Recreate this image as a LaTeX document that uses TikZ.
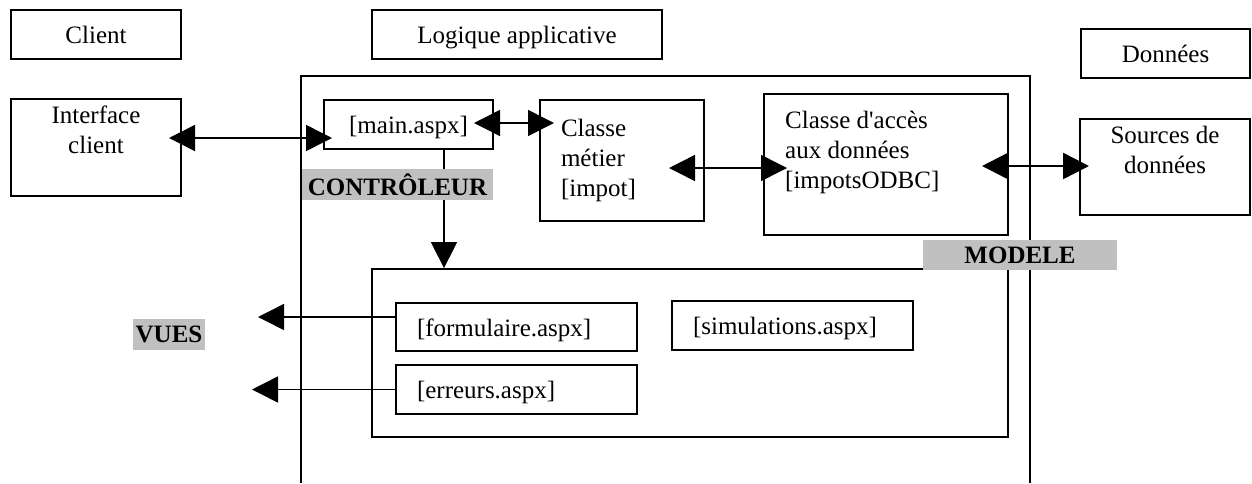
\documentclass[tikz,border=0pt]{standalone}
\usepackage{fontspec}
\setmainfont{Liberation Serif}
\usepackage{tikz}
\usetikzlibrary{arrows.meta,positioning}
\definecolor{mvcgray}{HTML}{C0C0C0}
\definecolor{mvcink}{HTML}{000000}
\newcommand{\mvcfont}{\fontsize{25}{30}\selectfont}
\tikzset{
  plainBox/.style={draw=mvcink, line width=2pt, inner sep=0pt, font=\mvcfont, align=center},
  lineBox/.style={draw=mvcink, line width=2pt, inner sep=0pt, font=\mvcfont, text height=18pt, text depth=0pt},
  textBox/.style={plainBox, align=left, inner xsep=21pt},
  textLine/.style={textBox, text height=18pt, text depth=0pt},
  boxText/.style={font=\mvcfont, inner sep=0pt},
  grayLabel/.style={fill=mvcgray, inner sep=0pt, font=\mvcfont\bfseries},
  dblArrow/.style={{Triangle[length=26pt,width=26pt]}-{Triangle[length=26pt,width=26pt]}, line width=1.5pt, draw=mvcink},
  oneArrow/.style={-{Triangle[length=26pt,width=26pt]}, line width=1.5pt, draw=mvcink},
  frameLine/.style={line width=1.5pt, draw=mvcink}
}

\begin{document}
\begin{tikzpicture}[x=1pt,y=-1pt]
  \useasboundingbox (0,0) rectangle (1252,483);
  % tier headers
  \node[lineBox, minimum width=170pt, minimum height=49pt] (client) at (96,34.5) {Client};
  \node[lineBox, minimum width=290pt, minimum height=49pt] (logique) at (517,34.5) {Logique applicative};
  \node[lineBox, minimum width=169pt, minimum height=49pt] (donnees) at (1165.5,53.5) {Données};
  % application frame and views
  \draw[frameLine] (301,483) -- (301,76) -- (1030,76) -- (1030,483);
  \node[plainBox, line width=1.8pt, minimum width=636pt, minimum height=168pt] (vues) at (690,353) {};
  \node[plainBox, minimum width=170pt, minimum height=97pt] (iface) at (96,147.5) {};
  \node[boxText, align=center] (ifaceTxt) at (96,130) {Interface\\client};
  \node[lineBox, minimum width=169pt, minimum height=49pt] (main) at (408.5,124.5) {[main.aspx]};
  \node[textBox, text width=122pt, minimum height=121pt] (metier) at (622,160.5) {Classe\\métier\\{[impot]}};
  \node[plainBox, minimum width=244pt, minimum height=141pt] (acces) at (886,164.5) {};
  \node[boxText, align=left, anchor=west] (accesTxt) at (785,152) {Classe d\textquotesingle accès\\aux données\\{[impotsODBC]}};
  \node[plainBox, minimum width=170pt, minimum height=96pt] (sources) at (1165,167) {};
  \node[boxText, align=center] (sourcesTxt) at (1165,150) {Sources de\\données};
  \node[textLine, text width=199pt, minimum height=48pt] (form) at (516.5,327) {[formulaire.aspx]};
  \node[textLine, text width=199pt, minimum height=49pt] (err) at (516.5,389.5) {[erreurs.aspx]};
  \node[textLine, text width=199pt, minimum height=49pt] (simul) at (792.5,325.5) {[simulations.aspx]};
  \coordinate (vueOut1) at (258,317);
  \coordinate (vueOut2) at (252,389.5);
  % connectors
  \draw[dblArrow] ([xshift=-13pt,yshift=9.5pt]iface.east) -- ([xshift=9pt,yshift=-13.5pt]main.west);
  \draw[dblArrow] ([xshift=-20pt,yshift=1.5pt]main.east) -- ([xshift=15pt,yshift=37.5pt]metier.west);
  \draw[dblArrow] ([xshift=-36pt,yshift=-7.5pt]metier.east) -- ([xshift=24pt,yshift=-3.5pt]acces.west);
  \draw[dblArrow, line width=2.5pt] ([xshift=-27pt,yshift=-1.5pt]acces.east) -- ([xshift=10pt,yshift=1pt]sources.west);
  \draw[oneArrow] ([xshift=35.5pt]main.south) -- ([xshift=35.5pt]main.south |- vues.north);
  \draw[oneArrow] ([yshift=10pt]form.west) -- (vueOut1);
  \draw[oneArrow] (err.west) -- (vueOut2);
  % layer labels
  \node[grayLabel, minimum width=191pt, minimum height=31pt] (ctrlLbl) at (397.5,184.5) {CONTRÔLEUR};
  \node[grayLabel, minimum width=194pt, minimum height=30pt] (modeleLbl) at (1020,255) {MODELE};
  \node[grayLabel, minimum width=72pt, minimum height=31pt] (vuesLbl) at (169,334.5) {VUES};
\end{tikzpicture}
\end{document}
